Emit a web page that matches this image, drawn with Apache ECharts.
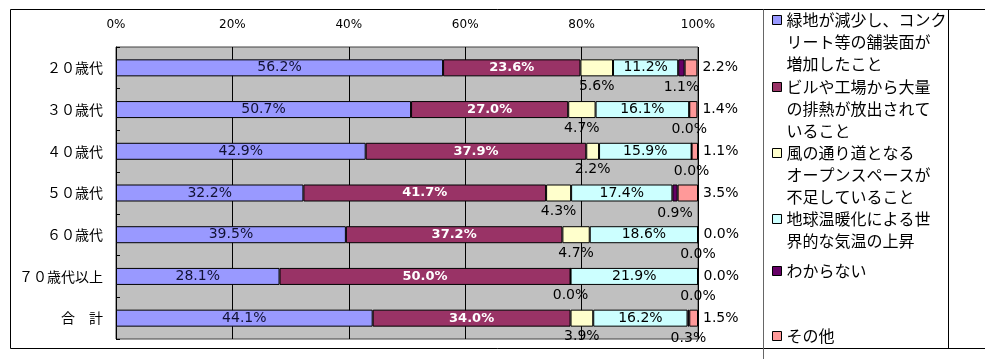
<!DOCTYPE html>
<html><head><meta charset="utf-8">
<script src="https://cdn.jsdelivr.net/npm/echarts@6/dist/echarts.min.js"></script>
<style>html,body{margin:0;padding:0;background:#fff}#c{width:992px;height:359px}</style>
</head><body><div id="c"></div>
<script>
const categories = ['２０歳代','３０歳代','４０歳代','５０歳代','６０歳代','７０歳代以上','合　計'];
const seriesNames = [
  '緑地が減少し、コンクリート等の舗装面が増加したこと',
  'ビルや工場から大量の排熱が放出されていること',
  '風の通り道となるオープンスペースが不足していること',
  '地球温暖化による世界的な気温の上昇',
  'わからない',
  'その他'
];
const legendLines = [
  ['緑地が減少し、コンク','リート等の舗装面が','増加したこと'],
  ['ビルや工場から大量','の排熱が放出されて','いること'],
  ['風の通り道となる','オープンスペースが','不足していること'],
  ['地球温暖化による世','界的な気温の上昇'],
  ['わからない'],
  ['その他']
];
const greenLoss     = [56.2, 50.7, 42.9, 32.2, 39.5, 28.1, 44.1];
const buildingHeat  = [23.6, 27.0, 37.9, 41.7, 37.2, 50.0, 34.0];
const windPath      = [5.6, 4.7, 2.2, 4.3, 4.7, 0.0, 3.9];
const globalWarming = [11.2, 16.1, 15.9, 17.4, 18.6, 21.9, 16.2];
const unknownVals   = [1.1, 0.0, 0.0, 0.9, 0.0, 0.0, 0.3];
const otherVals     = [2.2, 1.4, 1.1, 3.5, 0.0, 0.0, 1.5];
const xTicks = [0, 20, 40, 60, 80, 100];

const colors = ['#9999FF','#993366','#FFFFCC','#CCFFFF','#660066','#FF9999'];
const values = [greenLoss, buildingHeat, windPath, globalWarming, unknownVals, otherVals];
const fmt = p => p.value.toFixed(1) + '%';
const numFont = 'DejaVu Sans';
const jpFont = '"Noto Sans CJK JP", sans-serif';

const labelStyles = [
  {show:true, position:'inside', color:'#111133', fontSize:14, fontFamily:numFont, formatter:fmt},
  {show:true, position:'inside', color:'#ffffff', fontSize:13, fontWeight:'bold', fontFamily:numFont, formatter:fmt},
  {show:true, position:'inside', offset:[0,18.5], color:'#000', fontSize:14, fontFamily:numFont, formatter:fmt},
  {show:true, position:'inside', color:'#000', fontSize:14, fontFamily:numFont, formatter:fmt},
  {show:true, position:'inside', offset:[0,20], color:'#000', fontSize:14, fontFamily:numFont, formatter:fmt},
  {show:true, position:'right', distance:5, color:'#000', fontSize:14, fontFamily:numFont, formatter:fmt}
];

const series = seriesNames.map((name, i) => ({
  name, type:'bar', stack:'total', barWidth:17,
  data: values[i],
  itemStyle:{color:colors[i], borderColor:'#000', borderWidth:1},
  label: labelStyles[i],
  emphasis:{disabled:true},
  z: i === 2 || i === 4 || i === 5 ? 3 : 2
}));

const LH = 22;
const firstLineY = [20, 87, 153, 219, 271, 336];
const legends = seriesNames.map((name, i) => {
  const n = legendLines[i].length;
  return {
    data:[name], orient:'vertical', left:772,
    top: firstLineY[i] - (2*n-1)*LH/2, padding:0,
    icon:'rect', itemWidth:9, itemHeight:9, selectedMode:false,
    itemStyle:{borderColor:'#000', borderWidth:1},
    formatter: () => ' \n'.repeat(n-1) + legendLines[i].join('\n'),
    textStyle:{fontFamily:jpFont, fontSize:16, lineHeight:LH, color:'#000'}
  };
});

const chart = echarts.init(document.getElementById('c'), null, {renderer:'canvas'});
chart.setOption({
  animation:false,
  backgroundColor:'#fff',
  color: colors,
  legend: legends,
  grid:{left:116, right:294, top:47, bottom:20, show:true, backgroundColor:'#C0C0C0', borderColor:'#404040', borderWidth:1, containLabel:false},
  xAxis:{
    type:'value', position:'top', min:xTicks[0], max:xTicks[xTicks.length-1], interval:xTicks[1]-xTicks[0],
    axisLine:{show:false}, axisTick:{show:false},
    splitLine:{show:true, lineStyle:{color:'#000', width:1}},
    axisLabel:{formatter:'{value}%', margin:16, fontSize:12, fontFamily:numFont, color:'#000'}
  },
  yAxis:{
    type:'category', inverse:true, data:categories,
    axisLine:{show:true, lineStyle:{color:'#000', width:1}},
    axisTick:{show:true, inside:true, length:4, lineStyle:{color:'#000'}},
    axisLabel:{margin:13, fontSize:14, fontFamily:jpFont, color:'#000'},
    splitLine:{show:false}
  },
  series,
  graphic:[
    {type:'line', shape:{x1:10.5, y1:9.5, x2:985, y2:9.5}, style:{stroke:'#000', lineWidth:1}, silent:true},
    {type:'line', shape:{x1:10.5, y1:9.5, x2:10.5, y2:348.5}, style:{stroke:'#000', lineWidth:1}, silent:true},
    {type:'line', shape:{x1:10.5, y1:348.5, x2:985, y2:348.5}, style:{stroke:'#000', lineWidth:1}, silent:true},
    {type:'line', shape:{x1:763.5, y1:9.5, x2:763.5, y2:359}, style:{stroke:'#666', lineWidth:1}, silent:true},
    {type:'line', shape:{x1:948.5, y1:9.5, x2:948.5, y2:348.5}, style:{stroke:'#000', lineWidth:1}, silent:true}
  ]
});
</script></body></html>
